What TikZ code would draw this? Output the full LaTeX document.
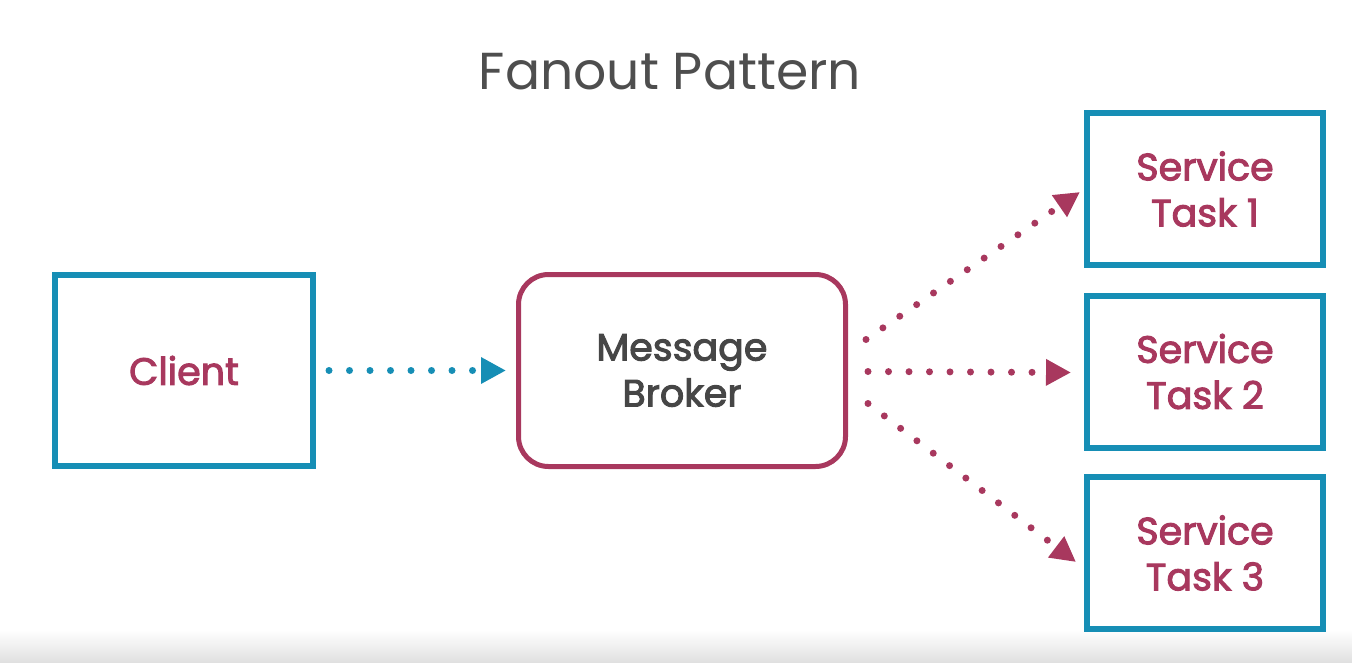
\documentclass[tikz,border=0pt]{standalone}
\usepackage{fontspec}
\setmainfont{Poppins}
\newfontfamily\semib{Poppins}[BoldFont={Poppins},BoldFeatures={FakeBold=2.6}]
\usetikzlibrary{arrows.meta,positioning}
\definecolor{cblue}{RGB}{22,142,181}
\definecolor{cmag}{RGB}{168,56,94}
\definecolor{cgray}{RGB}{70,70,70}
\definecolor{ctitle}{RGB}{78,78,78}
\tikzset{
  boxtext/.style={inner sep=0pt,align=center,font=\fontsize{38}{48}\semib\bfseries},
  sqbox/.style={boxtext,draw=cblue,line width=6pt,minimum width=258pt,minimum height=191pt,text=cmag},
  svcbox/.style={boxtext,draw=cblue,line width=6pt,minimum width=236pt,minimum height=152pt,text=cmag},
  brokerbox/.style={boxtext,draw=cmag,line width=5pt,rounded corners=30pt,minimum width=327pt,minimum height=192pt,text=cgray},
  dotline/.style={line width=7pt,line cap=round,dash pattern=on 0pt off 20.5pt},
  bluearrow/.style={dotline,draw=cblue,-{Triangle[length=25pt,width=25pt,line cap=butt]}},
  magarrow/.style={dotline,draw=cmag,-{Triangle[length=25pt,width=25pt,line cap=butt]}},
}
\begin{document}
\begin{tikzpicture}[x=1pt,y=-1pt]
\useasboundingbox (0,0) rectangle (1352,662);
\shade[top color=white,bottom color=black!12] (0,630) rectangle (1352,662);
\node[text=ctitle,font=\fontsize{52}{60}\selectfont] (title) at (670,72) {Fanout Pattern};
\node[sqbox] (client) at (184,370.5) {Client};
\node[brokerbox] (broker) at (682,370.5) {Message\\[-2pt]Broker};
\node[svcbox] (t1) at (1205,189) {Service\\[-2pt]Task 1};
\node[svcbox] (t2) at (1205,371.5) {Service\\[-2pt]Task 2};
\node[svcbox] (t3) at (1205,553) {Service\\[-2pt]Task 3};
\coordinate (s1) at ([shift={(18,-31)}]broker.east);
\coordinate (s2) at ([shift={(20,1)}]broker.east);
\coordinate (s3) at ([shift={(20,33)}]broker.east);
\coordinate (e1) at ([shift={(-4,3)}]t1.west);
\coordinate (e2) at ([shift={(-13,1)}]t2.west);
\coordinate (e3) at ([shift={(-8,9)}]t3.west);
\draw[bluearrow,shorten <=13pt,shorten >=10pt] (client.east) -- (broker.west);
\draw[magarrow] (s1) -- (e1);
\draw[magarrow] (s2) -- (e2);
\draw[magarrow] (s3) -- (e3);
\end{tikzpicture}
\end{document}
